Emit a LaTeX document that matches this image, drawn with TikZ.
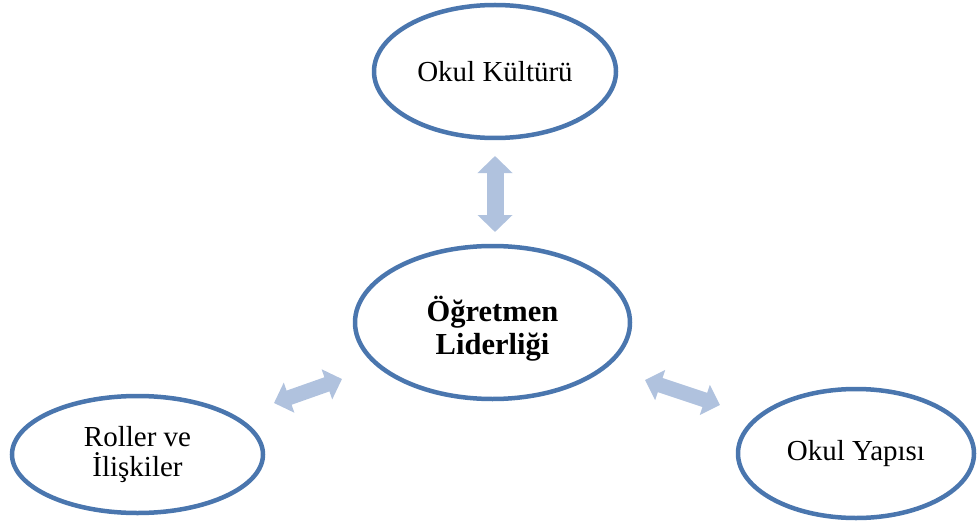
\documentclass[tikz,border=0pt]{standalone}
\usepackage{fontspec}
\setmainfont{Liberation Serif}
\usetikzlibrary{shapes.geometric,arrows.meta}
\definecolor{ringblue}{HTML}{4A76AE}
\definecolor{linkblue}{HTML}{B0C2DE}
\begin{document}
\begin{tikzpicture}[x=1pt,y=-1pt,
  topic/.style={ellipse,draw=ringblue,line width=4.5pt,fill=white,inner sep=0pt,
    align=center,font=\fontsize{29}{30}\selectfont},
  corelabel/.style={align=center,font=\fontsize{30.5}{33}\selectfont\bfseries,yshift=-6pt},
  link/.style={draw=linkblue,line width=17pt,
    {Triangle[width=34pt,length=17pt]}-{Triangle[width=34pt,length=17pt]}},
  slink/.style={draw=linkblue,line width=15pt,
    {Triangle[width=31pt,length=16pt]}-{Triangle[width=31pt,length=16pt]}}]
\useasboundingbox (0,0) rectangle (977,524);

% topic ellipses
\node[topic,minimum width=242pt,minimum height=133pt] (kultur) at (495,71.5) {Okul Kültürü};
\node[topic,minimum width=275pt,minimum height=153pt,
  label={[corelabel]center:{Öğretmen\\Liderliği}}] (lider) at (492.5,322.5) {};
\node[topic,minimum width=251pt,minimum height=117pt] (roller) at (137.5,454.5) {Roller ve\\İlişkiler};
\node[topic,minimum width=236pt,minimum height=129pt] (yapi) at (856,453.5) {Okul Yapısı};

% free ends of the two-way links
\coordinate (k1) at (495,156);
\coordinate (k2) at (495,232);
\coordinate (r1) at (274,403);
\coordinate (r2) at (342,379);
\coordinate (y1) at (645,380);
\coordinate (y2) at (720,405);

\draw[link] (k1) -- (k2);
\draw[slink] (r1) -- (r2);
\draw[slink] (y1) -- (y2);
\end{tikzpicture}
\end{document}
